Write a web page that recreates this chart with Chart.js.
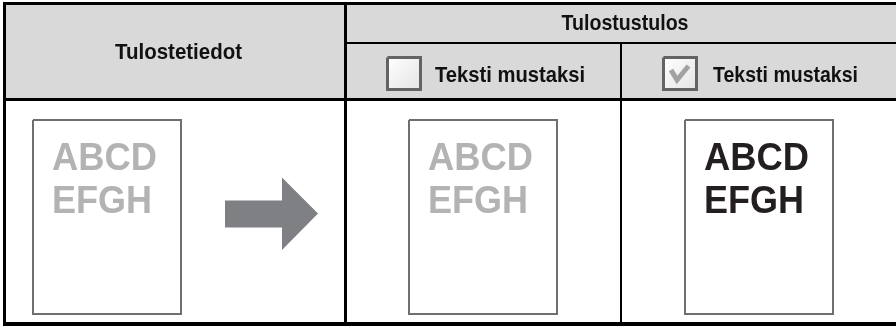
<!DOCTYPE html>
<html>
<head>
<meta charset="utf-8">
<script src="https://cdn.jsdelivr.net/npm/chart.js@4.4.1/dist/chart.umd.min.js"></script>
<style>
  html, body { margin: 0; padding: 0; background: #ffffff; }
  #wrap { width: 896px; height: 326px; }
</style>
</head>
<body>
<div id="wrap"><canvas id="c" width="896" height="326"></canvas></div>
<script>
// ---- content (text) ----
const headerTitles = ['Tulostetiedot', 'Tulostustulos'];
const optionLabels = ['Teksti mustaksi', 'Teksti mustaksi'];
const optionChecked = [false, true];
const sampleLines = ['ABCD', 'EFGH'];
const sampleColors = ['#b3b3b3', '#b3b3b3', '#231f20'];

// ---- layout (diagram units = pixels of the 896x326 frame) ----
const frame = { w: 896, h: 326 };
const pageLefts = [33, 409, 685];
const pageBox = { w: 148, top: 120, bottom: 314 };
const checkLefts = [387.5, 663.5];
const checkBox = { w: 33, top: 57.5, bottom: 89.5 };
const sampleWidths = [105, 100];

function poly(pts) { return pts.map(p => ({ x: p[0], y: p[1] })); }
function rect(x0, y0, x1, y1) { return poly([[x0,y0],[x1,y0],[x1,y1],[x0,y1],[x0,y0]]); }
function seg(x0, y0, x1, y1) { return poly([[x0,y0],[x1,y1]]); }

const datasets = [];
function addShape(data, opts) {
  datasets.push(Object.assign({
    data: data, showLine: true, pointRadius: 0, pointHoverRadius: 0,
    borderWidth: 0, borderColor: 'rgba(0,0,0,0)', backgroundColor: 'rgba(0,0,0,0)',
    fill: false, tension: 0, clip: false, order: 0
  }, opts));
}

// header background
addShape(rect(3, 2, frame.w, 100), { fill: 'shape', backgroundColor: '#d9d9d9', order: 100 });
// grid lines
const black = '#000000';
addShape(seg(3, 3.5, frame.w, 3.5), { borderColor: black, borderWidth: 3, order: 1 });
addShape(seg(4.5, 2, 4.5, frame.h), { borderColor: black, borderWidth: 3, order: 1 });
addShape(seg(3, 324, frame.w, 324), { borderColor: black, borderWidth: 4, order: 1 });
addShape(seg(3, 99.5, frame.w, 99.5), { borderColor: black, borderWidth: 3, order: 1 });
addShape(seg(345.5, 2, 345.5, frame.h), { borderColor: black, borderWidth: 3, order: 1 });
addShape(seg(345, 43, frame.w, 43), { borderColor: black, borderWidth: 2, order: 1 });
addShape(seg(621, 43, 621, frame.h), { borderColor: black, borderWidth: 2, order: 1 });

// checkboxes
function boxGradient(context) {
  const chart = context.chart;
  const ds = chart.data.datasets[context.datasetIndex];
  const sx = chart.scales && chart.scales.x, sy = chart.scales && chart.scales.y;
  if (!sx || !sy || !ds) return '#f3f3f3';
  const xs = ds.data.map(p => sx.getPixelForValue(p.x));
  const ys = ds.data.map(p => sy.getPixelForValue(p.y));
  const x0 = Math.min(...xs), y0 = Math.min(...ys), x1 = Math.max(...xs), y1 = Math.max(...ys);
  if (![x0, y0, x1, y1].every(Number.isFinite)) return '#f3f3f3';
  const g = chart.ctx.createLinearGradient(x0, y0, x1, y1);
  g.addColorStop(0, '#ffffff');
  g.addColorStop(1, '#e4e4e4');
  return g;
}
checkLefts.forEach((x, i) => {
  addShape(rect(x, checkBox.top, x + checkBox.w, checkBox.bottom),
    { fill: 'shape', backgroundColor: boxGradient, borderColor: '#636363', borderWidth: 3, order: 5 });
  if (optionChecked[i]) {
    addShape(poly([[x + 7.5, 70], [x + 13.5, 80], [x + 25, 66]]),
      { borderColor: '#a2a2a2', borderWidth: 5, borderJoinStyle: 'miter', order: 4 });
  }
});

// pages
pageLefts.forEach(x => {
  addShape(rect(x, pageBox.top, x + pageBox.w, pageBox.bottom),
    { borderColor: '#6f6f6f', borderWidth: 2, order: 5 });
});

// arrow
addShape(poly([[225,200.5],[282,200.5],[282,177.5],[318,213.5],[282,250],[282,227.5],[225,227.5],[225,200.5]]),
  { fill: 'shape', backgroundColor: '#7f8083', order: 5 });

// ---- text plugin (positions through the chart's scales) ----
function fitText(ctx, txt, x, y, targetW, align) {
  const w = ctx.measureText(txt).width;
  const sx = targetW / w;
  ctx.save();
  ctx.translate(x, y);
  ctx.scale(sx, 1);
  ctx.textAlign = align;
  ctx.fillText(txt, 0, 0);
  ctx.restore();
}
const textPlugin = {
  id: 'diagramText',
  afterDatasetsDraw(chart) {
    const ctx = chart.ctx;
    const X = v => chart.scales.x.getPixelForValue(v);
    const Y = v => chart.scales.y.getPixelForValue(v);
    ctx.save();
    ctx.textBaseline = 'alphabetic';
    ctx.fillStyle = '#111111';
    ctx.font = 'bold 22px "Liberation Sans Narrow", "Liberation Sans", Arial, sans-serif';
    fitText(ctx, headerTitles[0], X(178.5), Y(58.5), 127, 'center');
    fitText(ctx, headerTitles[1], X(625), Y(30), 127, 'center');
    fitText(ctx, optionLabels[0], X(435), Y(82), 150, 'left');
    fitText(ctx, optionLabels[1], X(713), Y(82), 145, 'left');

    ctx.font = 'bold 38px "Liberation Sans", Arial, sans-serif';
    pageLefts.forEach((px, i) => {
      ctx.fillStyle = sampleColors[i];
      sampleLines.forEach((line, j) => {
        fitText(ctx, line, X(px + 19), Y(170 + j * 43), sampleWidths[j], 'left');
      });
    });
    ctx.restore();
  }
};

new Chart(document.getElementById('c'), {
  type: 'scatter',
  data: { datasets: datasets },
  options: {
    responsive: false,
    animation: false,
    devicePixelRatio: 1,
    events: [],
    layout: { padding: 0 },
    plugins: { legend: { display: false }, tooltip: { enabled: false } },
    scales: {
      x: { type: 'linear', min: 0, max: frame.w, display: false },
      y: { type: 'linear', min: 0, max: frame.h, reverse: true, display: false }
    }
  },
  plugins: [textPlugin]
});
</script>
</body>
</html>
